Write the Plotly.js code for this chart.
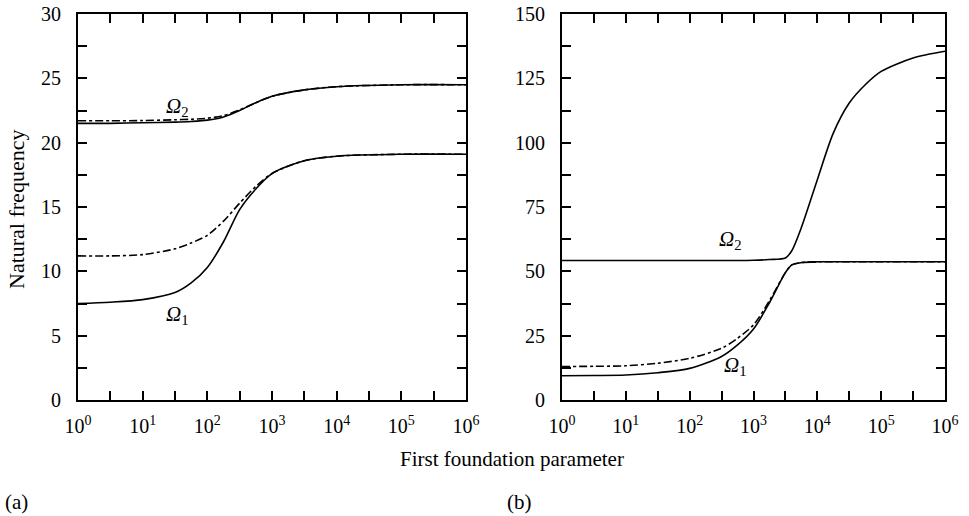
<!DOCTYPE html>
<html>
<head>
<meta charset="utf-8">
<script src="https://cdn.plot.ly/plotly-3.0.1.min.js"></script>
<style>html,body{margin:0;padding:0;background:#fff;}#chart{width:969px;height:516px;}</style>
</head>
<body>
<div id="chart"></div>
<script>
// ---- data (a) ----
const paramA = [1, 3.16, 10, 31.6, 56.2, 100, 178, 316, 562, 1000, 3162, 10000, 100000, 1000000];
const omega2SolidA = [21.5, 21.5, 21.55, 21.6, 21.65, 21.75, 22.0, 22.5, 23.1, 23.6, 24.1, 24.35, 24.5, 24.5];
const omega2DashA  = [21.7, 21.7, 21.72, 21.78, 21.82, 21.9, 22.1, 22.55, 23.1, 23.6, 24.1, 24.35, 24.5, 24.5];
const omega1SolidA = [7.5, 7.6, 7.8, 8.35, 9.1, 10.3, 12.3, 14.8, 16.4, 17.6, 18.6, 18.95, 19.1, 19.1];
const omega1DashA  = [11.2, 11.2, 11.3, 11.75, 12.2, 12.8, 13.9, 15.3, 16.6, 17.6, 18.6, 18.95, 19.1, 19.1];
// ---- data (b) ----
const paramB = [1, 3.16, 10, 31.6, 100, 316, 562, 1000, 1778, 3162, 3981, 5623, 10000, 17783, 31623, 56234, 100000, 316228, 1000000];
const omega2SolidB = [54.2, 54.2, 54.2, 54.2, 54.2, 54.2, 54.2, 54.3, 54.6, 55.2, 58.0, 67.0, 85.6, 103.7, 115.4, 122.5, 127.7, 132.9, 135.5];
const omega1SolidB = [9.4, 9.5, 9.7, 10.6, 12.3, 16.9, 21.4, 27.6, 37.8, 49.5, 52.5, 53.4, 53.7, 53.7, 53.7, 53.7, 53.7, 53.7, 53.7];
const omega1DashB  = [13.0, 13.1, 13.3, 14.3, 16.2, 20.1, 24.0, 29.2, 38.6, 49.5, 52.5, 53.4, 53.7, 53.7, 53.7, 53.7, 53.7, 53.7, 53.7];
// ---- ticks ----
const xTickVals = [1, 3.162, 10, 31.62, 100, 316.2, 1000, 3162, 10000, 31623, 100000, 316228, 1000000];
const xTickText = ['10<sup>0</sup>', '', '10<sup>1</sup>', '', '10<sup>2</sup>', '', '10<sup>3</sup>', '', '10<sup>4</sup>', '', '10<sup>5</sup>', '', '10<sup>6</sup>'];
const yTickValsA = [0, 2.5, 5, 7.5, 10, 12.5, 15, 17.5, 20, 22.5, 25, 27.5, 30];
const yTickTextA = ['0', '', '5', '', '10', '', '15', '', '20', '', '25', '', '30'];
const yTickValsB = [0, 12.5, 25, 37.5, 50, 62.5, 75, 87.5, 100, 112.5, 125, 137.5, 150];
const yTickTextB = ['0', '', '25', '', '50', '', '75', '', '100', '', '125', '', '150'];

const FONT = '"Liberation Serif", "Times New Roman", serif';
const solid = {color: '#000', width: 1.6, shape: 'spline', smoothing: 0.8};
const dashed = {color: '#000', width: 1.6, shape: 'spline', smoothing: 0.8, dash: '8px,3px,3px,3px'};

const traces = [
  {x: paramA, y: omega2DashA, xaxis: 'x', yaxis: 'y', mode: 'lines', line: dashed},
  {x: paramA, y: omega2SolidA, xaxis: 'x', yaxis: 'y', mode: 'lines', line: solid},
  {x: paramA, y: omega1DashA, xaxis: 'x', yaxis: 'y', mode: 'lines', line: dashed},
  {x: paramA, y: omega1SolidA, xaxis: 'x', yaxis: 'y', mode: 'lines', line: solid},
  {x: paramB, y: omega1DashB, xaxis: 'x2', yaxis: 'y2', mode: 'lines', line: dashed},
  {x: paramB, y: omega1SolidB, xaxis: 'x2', yaxis: 'y2', mode: 'lines', line: solid},
  {x: paramB, y: omega2SolidB, xaxis: 'x2', yaxis: 'y2', mode: 'lines', line: solid}
];

function xAxis(domain, anchor) {
  return {
    type: 'log', domain: domain, anchor: anchor, range: [0, 6],
    tickmode: 'array', tickvals: xTickVals, ticktext: xTickText,
    ticks: 'inside', ticklen: 9, tickwidth: 2, tickcolor: '#000',
    showline: true, linecolor: '#000', linewidth: 2, mirror: 'allticks',
    showgrid: false, zeroline: false, fixedrange: true, ticklabelstandoff: 7,
    tickfont: {family: FONT, size: 20, color: '#000'}
  };
}
function yAxis(domain, anchor, maxv, vals, text) {
  return {
    domain: domain, anchor: anchor, range: [0, maxv],
    tickmode: 'array', tickvals: vals, ticktext: text,
    ticks: 'inside', ticklen: 9, tickwidth: 2, tickcolor: '#000',
    showline: true, linecolor: '#000', linewidth: 2, mirror: 'allticks',
    showgrid: false, zeroline: false, fixedrange: true, ticklabelstandoff: 11,
    tickfont: {family: FONT, size: 20, color: '#000'}
  };
}

const yDom = [1 - 400 / 516, 1 - 14 / 516];
const TXT = {family: FONT, size: 21, color: '#000'};
const OM = {family: FONT, size: 21, color: '#000'};
const layout = {
  width: 969, height: 516,
  margin: {l: 0, r: 0, t: 0, b: 0},
  paper_bgcolor: '#fff', plot_bgcolor: '#fff',
  showlegend: false,
  font: {family: FONT, color: '#000'},
  xaxis: xAxis([78 / 969, 466 / 969], 'y'),
  yaxis: yAxis(yDom, 'x', 30, yTickValsA, yTickTextA),
  xaxis2: xAxis([562 / 969, 945 / 969], 'y2'),
  yaxis2: yAxis(yDom, 'x2', 150, yTickValsB, yTickTextB),
  annotations: [
    {xref: 'paper', yref: 'paper', x: 16 / 969, y: 1 - 210 / 516, xanchor: 'center', yanchor: 'middle', textangle: -90, text: 'Natural frequency', showarrow: false, font: {family: FONT, size: 22, color: '#000'}},
    {xref: 'paper', yref: 'paper', x: 512 / 969, y: 1 - 459 / 516, xanchor: 'center', yanchor: 'middle', text: 'First foundation parameter', showarrow: false, font: TXT},
    {xref: 'paper', yref: 'paper', x: 3 / 969, y: 1 - 502 / 516, xanchor: 'left', yanchor: 'middle', text: '(a)', showarrow: false, font: TXT},
    {xref: 'paper', yref: 'paper', x: 505 / 969, y: 1 - 502 / 516, xanchor: 'left', yanchor: 'middle', text: '(b)', showarrow: false, font: TXT},
    {xref: 'x', yref: 'y', x: Math.log10(34), y: 22.8, text: '<i>Ω</i><sub>2</sub>', showarrow: false, font: OM},
    {xref: 'x', yref: 'y', x: Math.log10(34), y: 6.6, text: '<i>Ω</i><sub>1</sub>', showarrow: false, font: OM},
    {xref: 'x2', yref: 'y2', x: Math.log10(430), y: 62, text: '<i>Ω</i><sub>2</sub>', showarrow: false, font: OM},
    {xref: 'x2', yref: 'y2', x: Math.log10(520), y: 13.4, text: '<i>Ω</i><sub>1</sub>', showarrow: false, font: OM}
  ]
};

Plotly.newPlot('chart', traces, layout, {staticPlot: true, displayModeBar: false});
</script>
</body>
</html>
